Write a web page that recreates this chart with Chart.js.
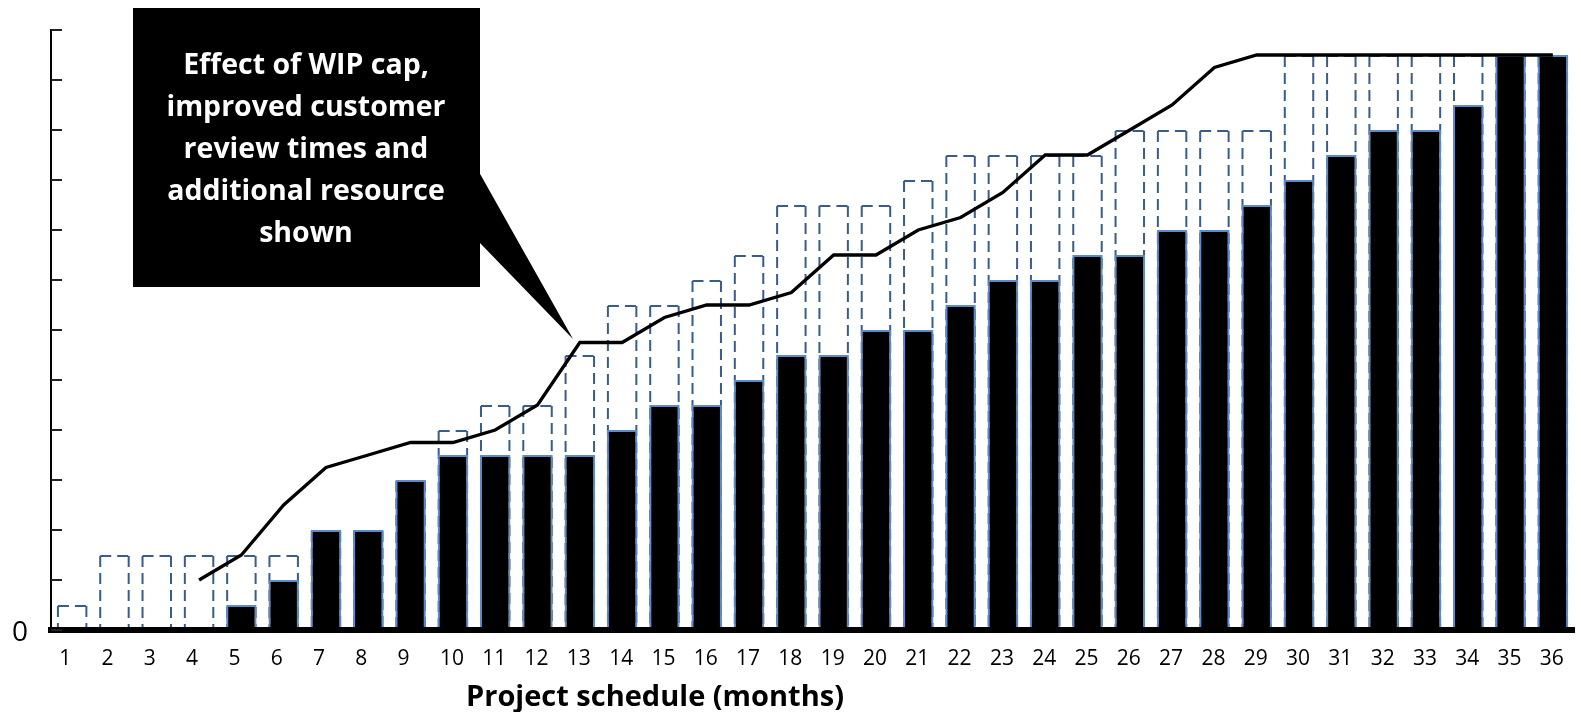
<!DOCTYPE html>
<html>
<head>
<meta charset="utf-8">
<script src="https://cdn.jsdelivr.net/npm/chart.js@4.4.1/dist/chart.umd.min.js"></script>
<style>
  html, body { margin: 0; padding: 0; background: #fff; }
  #wrap { width: 1581px; height: 712px; }
</style>
</head>
<body>
<div id="wrap"><canvas id="grafico" width="1581" height="712"></canvas></div>
<script>
// Dados
const MESES = ['1', '2', '3', '4', '5', '6', '7', '8', '9', '10', '11', '12', '13', '14', '15', '16', '17', '18',
  '19', '20', '21', '22', '23', '24', '25', '26', '27', '28', '29', '30', '31', '32', '33', '34', '35', '36'];

// caixas tracejadas (planejado)
const PLANEJADO = [0.5, 1.5, 1.5, 1.5, 1.5, 1.5, 2, 2, 3, 4, 4.5, 4.5, 5.5, 6.5, 6.5, 7, 7.5, 8.5,
  8.5, 8.5, 9, 9.5, 9.5, 9.5, 9.5, 10, 10, 10, 10, 11.5, 11.5, 11.5, 11.5, 11.5, 11.5, 11.5];

// barras pretas (realizado)
const REALIZADO = [0, 0, 0, 0, 0.5, 1, 2, 2, 3, 3.5, 3.5, 3.5, 3.5, 4, 4.5, 4.5, 5, 5.5,
  5.5, 6, 6, 6.5, 7, 7, 7.5, 7.5, 8, 8, 8.5, 9, 9.5, 10, 10, 10.5, 11.5, 11.5];

// linha preta
const TENDENCIA = [null, null, null, 1, 1.5, 2.5, 3.25, 3.5, 3.75, 3.75, 4, 4.5, 5.75, 5.75, 6.25, 6.5, 6.5, 6.75,
  7.5, 7.5, 8, 8.25, 8.75, 9.5, 9.5, 10, 10.5, 11.25, 11.5, 11.5, 11.5, 11.5, 11.5, 11.5, 11.5, 11.5];

const Y_MIN = 0;
const Y_MAX = 12;
const Y_PASSO = 1;

const TITULO_X = 'Project schedule (months)';
const NOTA = ['Effect of WIP cap,', 'improved customer', 'review times and', 'additional resource', 'shown'];

const FONTE = "'Open Sans', sans-serif";
Chart.defaults.font.family = FONTE;
Chart.defaults.color = '#000';

// Desenhos extras: contorno tracejado, marcas do eixo Y, título do eixo X e o balão
const extras = {
  id: 'extras',
  afterDatasetDraw(chart, args) {
    if (args.index !== 2) return;
    const ctx = chart.ctx;
    ctx.save();
    ctx.strokeStyle = '#385D8A';
    ctx.lineWidth = 2;
    ctx.setLineDash([11, 6]);
    args.meta.data.forEach((bar) => {
      const { x, y, base, width } = bar.getProps(['x', 'y', 'base', 'width'], true);
      const l = x - width / 2 + 1;
      const r = x + width / 2 - 1;
      const t = y + 1;
      ctx.beginPath();
      ctx.moveTo(l, t); ctx.lineTo(l, base);
      ctx.moveTo(r, t); ctx.lineTo(r, base);
      ctx.moveTo(l, t); ctx.lineTo(r, t);
      ctx.stroke();
    });
    ctx.restore();
  },
  afterDraw(chart) {
    const { ctx, chartArea } = chart;
    const ys = chart.scales.y;
    ctx.save();

    // marcas do eixo Y voltadas para dentro
    ctx.strokeStyle = '#222';
    ctx.lineWidth = 2;
    ys.ticks.forEach((t) => {
      const py = Math.round(ys.getPixelForValue(t.value));
      ctx.beginPath();
      ctx.moveTo(chartArea.left, py);
      ctx.lineTo(chartArea.left + 11, py);
      ctx.stroke();
    });

    // título do eixo X
    ctx.fillStyle = '#000';
    ctx.font = `bold 29px ${FONTE}`;
    ctx.textAlign = 'center';
    ctx.textBaseline = 'alphabetic';
    ctx.fillText(TITULO_X, 655, 706);

    // balão de anotação
    ctx.fillStyle = '#000';
    ctx.fillRect(133, 8, 347, 279);
    ctx.beginPath();
    ctx.moveTo(479, 172);
    ctx.lineTo(573, 339);
    ctx.lineTo(479, 242);
    ctx.closePath();
    ctx.fill();

    ctx.fillStyle = '#fff';
    ctx.font = `bold 28.5px ${FONTE}`;
    NOTA.forEach((linha, i) => ctx.fillText(linha, 306, 74 + i * 42.1));
    ctx.restore();
  },
};

new Chart(document.getElementById('grafico'), {
  type: 'bar',
  data: {
    labels: MESES,
    datasets: [
      {
        type: 'line',
        data: TENDENCIA,
        borderColor: '#000',
        borderWidth: 3.3,
        pointRadius: 0,
        tension: 0,
        order: 0,
      },
      {
        data: REALIZADO,
        backgroundColor: '#000',
        borderColor: '#5B8BCB',
        borderWidth: 2,
        grouped: false,
        categoryPercentage: 1,
        barPercentage: 0.72,
        order: 1,
      },
      {
        data: PLANEJADO,
        backgroundColor: 'rgba(0,0,0,0)',
        borderWidth: 0,
        grouped: false,
        categoryPercentage: 1,
        barPercentage: 0.72,
        order: 2,
      },
    ],
  },
  options: {
    responsive: false,
    animation: false,
    layout: { padding: { top: 30, right: 7, left: 12, bottom: 0 } },
    plugins: { legend: { display: false }, tooltip: { enabled: false } },
    scales: {
      x: {
        // marcas invisíveis só para empurrar os rótulos para baixo
        grid: { display: false, drawTicks: true, tickLength: 16 },
        border: { color: '#000', width: 6, z: 1 },
        ticks: {
          align: 'start', labelOffset: -13, padding: 0,
          autoSkip: false, maxRotation: 0,
          font: { size: 21 }, color: '#000',
        },
        afterFit: (s) => { s.height = 82; },
      },
      y: {
        min: Y_MIN, max: Y_MAX,
        grid: { display: false, drawTicks: false },
        border: { color: '#000', width: 2, z: 1 },
        ticks: {
          stepSize: Y_PASSO, padding: 0, crossAlign: 'far', labelOffset: 3,
          font: { size: 28 }, color: '#000',
          callback: (v) => (v === 0 ? '0' : ''),
        },
        afterFit: (s) => { s.width = 39; },
      },
    },
  },
  plugins: [extras],
});
</script>
</body>
</html>
